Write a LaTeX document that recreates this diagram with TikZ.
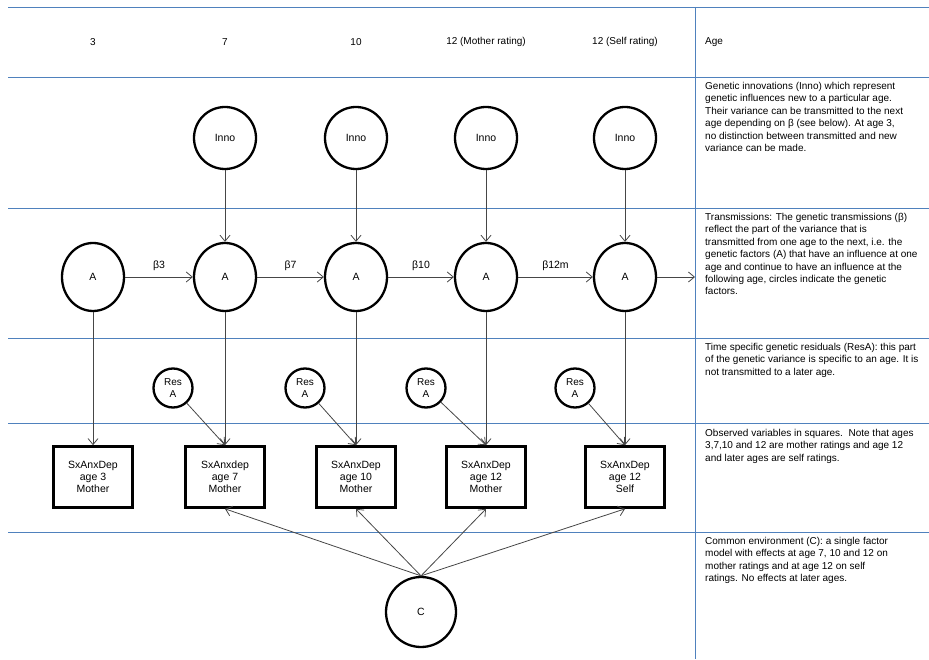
\documentclass[tikz,border=0pt]{standalone}
\usepackage{fontspec}
\setmainfont{Liberation Sans}
\usetikzlibrary{positioning, shapes.geometric, arrows.meta}

\definecolor{gridblue}{RGB}{79,129,189}
\definecolor{linegray}{RGB}{70,70,70}

\tikzstyle{inno} = [circle, minimum size=62pt, inner sep=0pt, text centered, draw=black, line width=2.3pt]
\tikzstyle{gen} = [ellipse, minimum width=62pt, minimum height=68pt, inner sep=0pt, text centered, draw=black, line width=2.3pt]
\tikzstyle{res} = [circle, minimum size=39pt, inner sep=0pt, align=center, draw=black, line width=2.3pt, font=\fontsize{10}{11.5}\selectfont]
\tikzstyle{obs} = [rectangle, minimum width=79pt, minimum height=61pt, align=center, draw=black, line width=2.7pt, font=\fontsize{10.5}{12}\selectfont]
\tikzstyle{env} = [circle, minimum size=70pt, inner sep=0pt, draw=black, line width=2.3pt]
\tikzstyle{arrow} = [draw=linegray, line width=0.8pt, -{Straight Barb[length=6pt,width=10pt]}]
\tikzstyle{grid} = [draw=gridblue, line width=0.8pt]
\tikzstyle{note} = [anchor=north west, align=left, inner sep=0pt, font=\fontsize{10}{12.4}\selectfont]
\tikzstyle{age} = [font=\fontsize{10}{12}\selectfont]

\begin{document}
\begin{tikzpicture}[x=1pt, y=1pt, font=\fontsize{10.5}{12}\selectfont]
\useasboundingbox (0,0) rectangle (929,659);

% table
\draw [grid] (8,652) -- (929,652);
\draw [grid] (8,582) -- (929,582);
\draw [grid] (8,451) -- (929,451);
\draw [grid] (8,321) -- (929,321);
\draw [grid] (8,236) -- (929,236);
\draw [grid] (8,127) -- (929,127);
\draw [grid] (695,652) -- (695,0);

% ages
\node (age3) [age] at (93,617) {3};
\node (age7) [age] at (225,617) {7};
\node (age10) [age] at (356,617) {10};
\node (age12m) [age] at (486,617) {12 (Mother rating)};
\node (age12s) [age] at (625,617) {12 (Self rating)};
\node (agehead) [age, anchor=west, inner sep=0pt] at (705,617) {Age};

% genetic factors
\node (a3) [gen] at (93,382) {A};
\node (a7) [gen] at (225,382) {A};
\node (a10) [gen] at (356,382) {A};
\node (a12m) [gen] at (486,382) {A};
\node (a12s) [gen] at (625,382) {A};
\coordinate (aend) at (695,382);

\draw [arrow] (a3) -- node[above=3pt] {β3} (a7);
\draw [arrow] (a7) -- node[above=3pt] {β7} (a10);
\draw [arrow] (a10) -- node[above=3pt] {β10} (a12m);
\draw [arrow] (a12m) -- node[above=3pt] {β12m} (a12s);
\draw [arrow] (a12s) -- (aend);

% innovations
\node (inno7) [inno] at (225,521) {Inno};
\node (inno10) [inno] at (356,521) {Inno};
\node (inno12m) [inno] at (486,521) {Inno};
\node (inno12s) [inno] at (625,521) {Inno};
\draw [arrow] (inno7) -- (a7);
\draw [arrow] (inno10) -- (a10);
\draw [arrow] (inno12m) -- (a12m);
\draw [arrow] (inno12s) -- (a12s);

% observed
\node (obs3) [obs] at (93,182) {SxAnxDep\\age 3\\Mother};
\node (obs7) [obs] at (225,182) {SxAnxdep\\age 7\\Mother};
\node (obs10) [obs] at (356,182) {SxAnxDep\\age 10\\Mother};
\node (obs12m) [obs] at (486,182) {SxAnxDep\\age 12\\Mother};
\node (obs12s) [obs] at (625,182) {SxAnxDep\\age 12\\Self};
\draw [arrow] (a3) -- (obs3);
\draw [arrow] (a7) -- (obs7);
\draw [arrow] (a10) -- (obs10);
\draw [arrow] (a12m) -- (obs12m);
\draw [arrow] (a12s) -- (obs12s);

% residuals
\node (res7) [res] at (173,271) {Res\\A};
\node (res10) [res] at (305,271) {Res\\A};
\node (res12m) [res] at (426,271) {Res\\A};
\node (res12s) [res] at (575,271) {Res\\A};
\draw [arrow] (res7) -- (obs7.north);
\draw [arrow] (res10) -- (obs10.north);
\draw [arrow] (res12m) -- (obs12m.north);
\draw [arrow] (res12s) -- (obs12s.north);

% common environment
\node (env) [env] at (421,47) {C};
\draw [arrow] (env.north) -- (obs7.south);
\draw [arrow] (env.north) -- (obs10.south);
\draw [arrow] (env.north) -- (obs12m.south);
\draw [arrow] (env.north) -- (obs12s.south);

% notes
\node (note1) [note] at (705,577) {Genetic innovations (Inno) which represent\\genetic influences new to a particular age.\\Their variance can be transmitted to the next\\age depending on β (see below). At age 3,\\no distinction between transmitted and new\\variance can be made.};
\node (note2) [note] at (705,446) {Transmissions: The genetic transmissions (β)\\reflect the part of the variance that is\\transmitted from one age to the next, i.e. the\\genetic factors (A) that have an influence at one\\age and continue to have an influence at the\\following age, circles indicate the genetic\\factors.};
\node (note3) [note] at (705,316) {Time specific genetic residuals (ResA): this part\\of the genetic variance is specific to an age. It is\\not transmitted to a later age.};
\node (note4) [note] at (705,230) {Observed variables in squares.\ \ Note that ages\\3,7,10 and 12 are mother ratings and age 12\\and later ages are self ratings.};
\node (note5) [note] at (705,122) {Common environment (C): a single factor\\model with effects at age 7, 10 and 12 on\\mother ratings and at age 12 on self\\ratings. No effects at later ages.};

\end{tikzpicture}
\end{document}
